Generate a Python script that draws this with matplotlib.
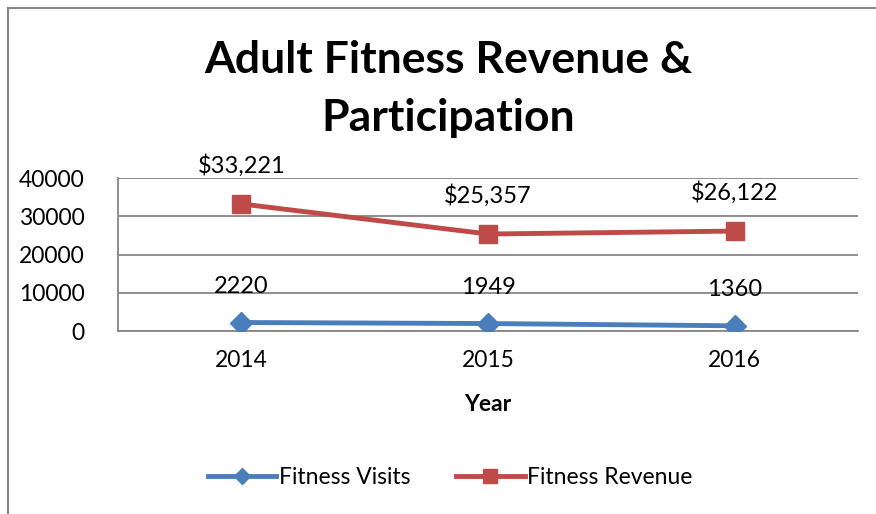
import matplotlib.pyplot as plt
from matplotlib.lines import Line2D

# datos
years = ["2014", "2015", "2016"]
visits = [2220, 1949, 1360]
revenue = [33221, 25357, 26122]
visit_labels = ["2220", "1949", "1360"]
revenue_labels = ["$33,221", "$25,357", "$26,122"]
y_ticks = [0, 10000, 20000, 30000, 40000]

plt.rcParams["font.family"] = ["Lato", "DejaVu Sans"]

fig = plt.figure(figsize=(8.76, 5.14), dpi=100)
ax = fig.add_axes([118/876, 1 - 331/514, 740/876, 153/514])

x = list(range(len(years)))
ax.plot(x, visits, color="#4a7ebb", lw=3.5, marker="D", ms=11, label="Fitness Visits", zorder=3)
ax.plot(x, revenue, color="#be4b48", lw=3.5, marker="s", ms=13, label="Fitness Revenue", zorder=3)

# etiquetas de datos
for i in x:
    ax.annotate(visit_labels[i], (i, visits[i]), xytext=(0, 26), textcoords="offset points",
                ha="center", va="center", fontsize=17, zorder=4)
    ax.annotate(revenue_labels[i], (i, revenue[i]), xytext=(0, 28), textcoords="offset points",
                ha="center", va="center", fontsize=17, zorder=4)

ax.set_xlim(-0.5, 2.5)
ax.set_ylim(0, 40000)
ax.set_yticks(y_ticks)
ax.set_yticklabels([str(v) for v in y_ticks], fontsize=16.5)
ax.set_xticks(x)
ax.set_xticklabels(years, fontsize=16.5)
ax.tick_params(length=0, pad=14)
ax.tick_params(axis="y", pad=24)
ax.set_xlabel("Year", fontsize=16.5, fontweight="bold", labelpad=16)
ax.grid(axis="y", color="#868686", lw=1.3)
ax.set_axisbelow(True)
for s in ["top", "right"]:
    ax.spines[s].set_visible(False)
ax.spines["left"].set_color("#868686")
ax.spines["bottom"].set_color("#868686")
ax.spines["left"].set_linewidth(1.3)
ax.spines["bottom"].set_linewidth(1.3)

fig.text(448/876, 1 - 60/514, "Adult Fitness Revenue &", ha="center", va="center",
         fontsize=32, fontweight="bold")
fig.text(448/876, 1 - 118/514, "Participation", ha="center", va="center",
         fontsize=32, fontweight="bold")

fig.legend(loc="center", bbox_to_anchor=(450/876, 1 - 478/514), ncol=2, frameon=False,
           fontsize=16.5, handlelength=3.0, handletextpad=0.1, columnspacing=2.0, markerscale=0.75)

# borde del grafico
fig.add_artist(Line2D([8/876, 8/876], [0, 1 - 8/514], color="#868686", lw=1.5, transform=fig.transFigure))
fig.add_artist(Line2D([8/876, 1], [1 - 8/514, 1 - 8/514], color="#868686", lw=1.5, transform=fig.transFigure))

fig.savefig("out.png", dpi=100)
